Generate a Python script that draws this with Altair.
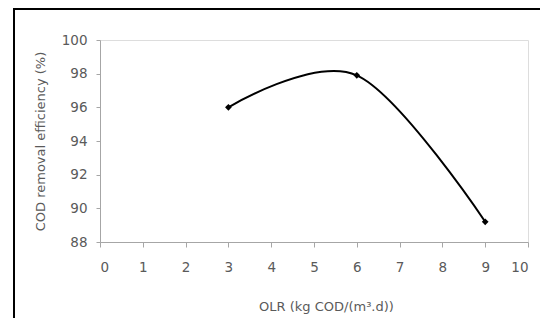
import altair as alt
import pandas as pd

olr = [3, 6, 9]
cod_removal = [96.0, 97.9, 89.2]
x_ticks = list(range(0, 11))
y_ticks = [88, 90, 92, 94, 96, 98, 100]

df = pd.DataFrame({"OLR": olr, "COD": cod_removal})

W, H = 428, 202
font = "DejaVu Sans"
txt = "#5a5a5a"

x_enc = alt.X(
    "OLR:Q",
    scale=alt.Scale(domain=[0, 10], nice=False, zero=False),
    axis=alt.Axis(
        values=x_ticks, title="OLR (kg COD/(m\u00b3.d))", grid=False,
        domainColor="#a6a6a6", tickColor="#a6a6a6", tickSize=5,
        labelPadding=13, labelFontSize=13.5, labelColor=txt, labelFont=font,
        titleFontSize=13, titleColor=txt, titleFont=font, titleFontWeight="normal",
        titleX=226, titleY=64, titleBaseline="middle", titleAlign="center",
    ),
)
y_enc = alt.Y(
    "COD:Q",
    scale=alt.Scale(domain=[88, 100], nice=False, zero=False),
    axis=alt.Axis(
        values=y_ticks, title="COD removal efficiency (%)", grid=False,
        domainColor="#a6a6a6", tickColor="#a6a6a6", tickSize=4,
        labelPadding=9, labelFontSize=13.5, labelColor=txt, labelFont=font,
        titleFontSize=13, titleColor=txt, titleFont=font, titleFontWeight="normal",
        titleX=-60, titleY=101, titleAngle=-90, titleBaseline="middle", titleAlign="center",
    ),
)

base = alt.Chart(df)
line = base.mark_line(interpolate="cardinal", color="black", strokeWidth=2).encode(x=x_enc, y=y_enc)
points = base.mark_point(shape="diamond", filled=True, color="black", size=45, opacity=1).encode(x=x_enc, y=y_enc)

frame_top = alt.Chart(pd.DataFrame({"k": [0]})).mark_rule(color="black", strokeWidth=2).encode(
    x=alt.value(-86), x2=alt.value(440), y=alt.value(-31)
)
frame_left = alt.Chart(pd.DataFrame({"k": [0]})).mark_rule(color="black", strokeWidth=2).encode(
    x=alt.value(-86), y=alt.value(-32), y2=alt.value(300)
)

chart = alt.layer(line, points, frame_top, frame_left).properties(
    width=W, height=H,
    autosize=alt.AutoSizeParams(type="none"),
    padding={"left": 92, "top": 32, "right": 12, "bottom": 76},
).configure_view(stroke=None).configure(background="white")

chart.save("out.html", embed_options={"renderer": "svg", "actions": False})
